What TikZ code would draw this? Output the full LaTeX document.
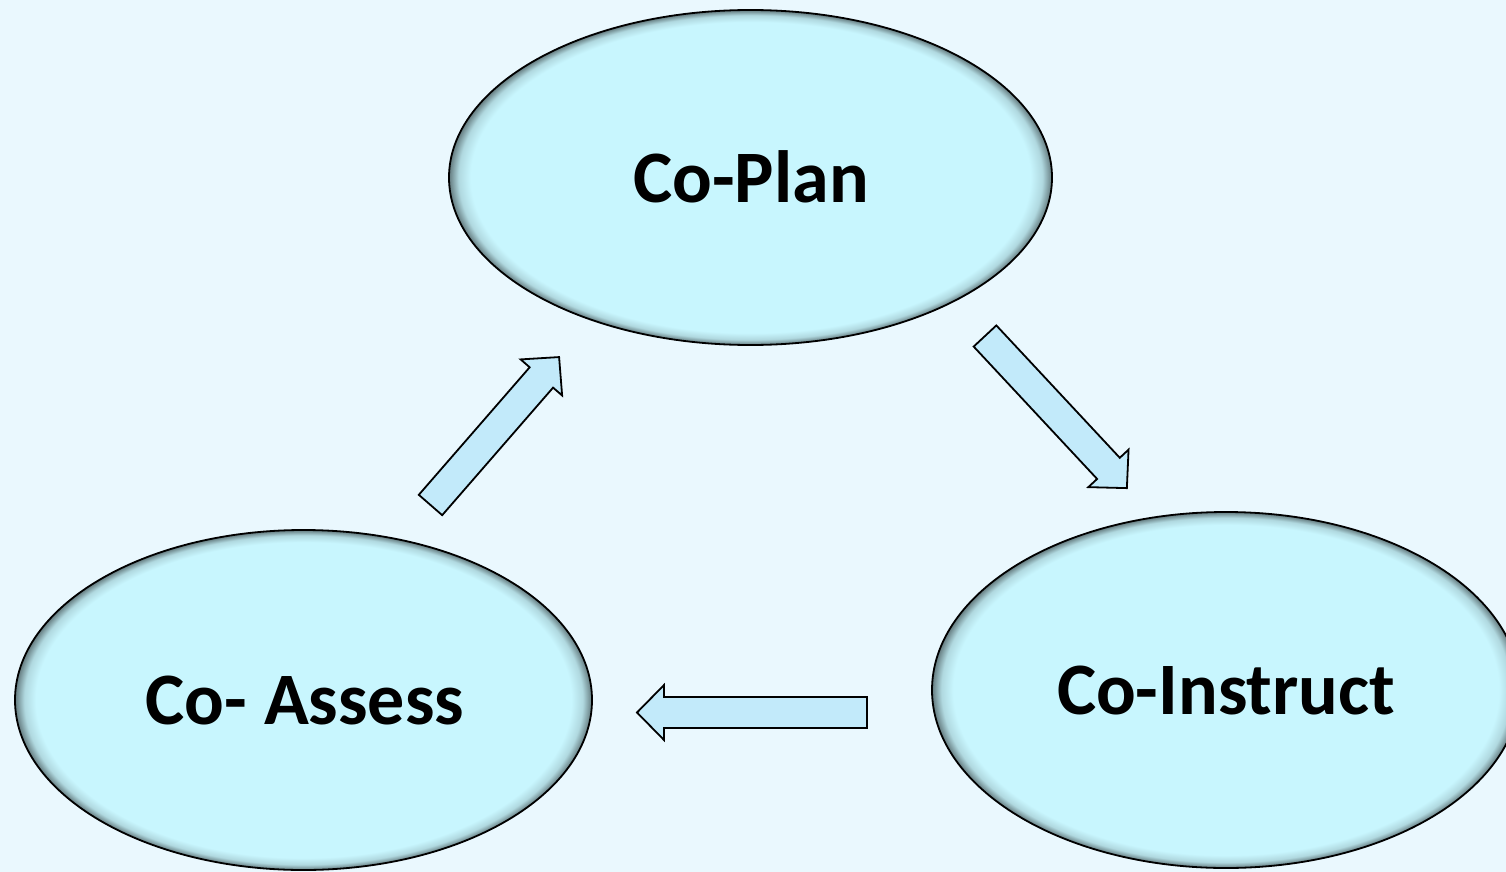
\documentclass[tikz,border=0pt]{standalone}
\usepackage{fontspec}
\setmainfont{Carlito}
\usetikzlibrary{shapes.geometric}
\definecolor{bgcol}{RGB}{234,248,254}
\definecolor{ellfill}{RGB}{200,246,254}
\definecolor{arrfill}{RGB}{194,234,250}
\pgfdeclareradialshading{bevel}{\pgfpoint{0bp}{0bp}}{color(0bp)=(ellfill); color(23.2bp)=(ellfill); color(24.2bp)=(ellfill!88!black); color(25bp)=(ellfill!50!black); color(50bp)=(ellfill!50!black)}
\newcommand\blockarrow[3]{%
  \draw[arrowbox, shift={(#1)}, rotate=#2]
    (0,-15.5) -- ({#3-27},-15.5) -- ({#3-27},-27.5) -- (#3,0)
    -- ({#3-27},27.5) -- ({#3-27},15.5) -- (0,15.5) -- cycle;}
\begin{document}
\begin{tikzpicture}[x=1pt,y=-1pt,
  stage/.style={ellipse, draw=black, line width=1.8pt, shading=bevel,
    inner sep=0pt, font=\bfseries\fontsize{74}{80}\selectfont},
  arrowbox/.style={draw=black, line width=1.8pt, fill=arrfill, line join=miter}]
\useasboundingbox (0,0) rectangle (1506,872);
\fill[bgcol] (0,0) rectangle (1506,872);

\node[stage, minimum width=603pt, minimum height=335pt] (plan) at (750.5,177.5) {};
\node[stage, minimum width=588pt, minimum height=356pt] (instr) at (1226,690) {};
\node[stage, minimum width=577pt, minimum height=340pt] (assess) at (303.5,700) {};

\node[font=\bfseries\fontsize{74}{80}\selectfont] (tplan) at (751,177) {Co-Plan};
\node[font=\bfseries\fontsize{74}{80}\selectfont] (tinstr) at (1226,690) {Co-Instruct};
\node[font=\bfseries\fontsize{74}{80}\selectfont] (tassess) at (305,700) {Co- Assess};

\coordinate (a1) at (430.5,505);
\coordinate (a2) at (985,336);
\coordinate (a3) at (867,712.5);
\blockarrow{a1}{49}{196}
\blockarrow{a2}{-47}{208}
\blockarrow{a3}{180}{230}
\end{tikzpicture}
\end{document}
